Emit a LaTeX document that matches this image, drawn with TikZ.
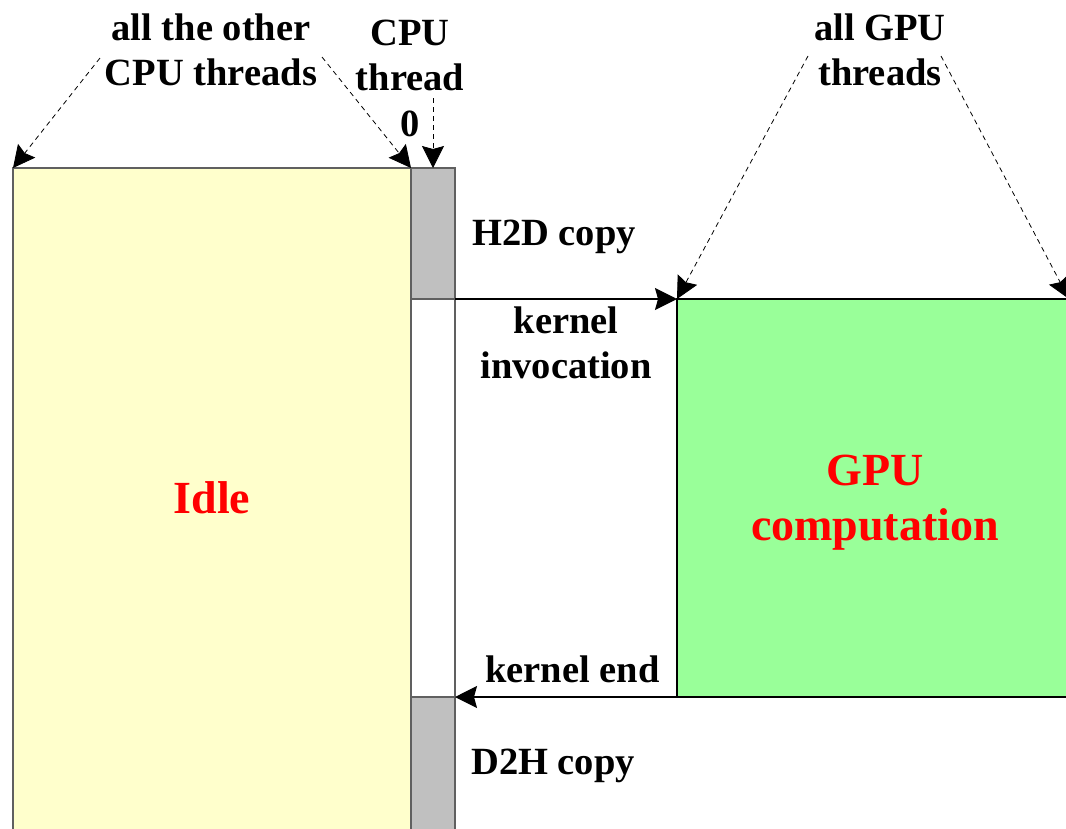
\documentclass[tikz,border=0pt]{standalone}
\usepackage{fontspec}
\setmainfont{Liberation Serif}
\usetikzlibrary{arrows.meta}

\definecolor{idlefill}{HTML}{FFFFCC}
\definecolor{copyfill}{HTML}{C0C0C0}
\definecolor{gpufill}{HTML}{99FF99}
\definecolor{edgegray}{HTML}{606060}

\begin{document}
\begin{tikzpicture}[x=1pt,y=-1pt,
  lbl/.style={font=\fontsize{38.5}{45.5}\selectfont\bfseries, align=center, inner sep=0pt},
  big/.style={font=\fontsize{46}{55}\selectfont\bfseries, text=red, align=center, inner sep=0pt},
  bar/.style={draw=edgegray, line width=1.2pt, anchor=north west, inner sep=0pt, outer sep=0pt},
  headed/.style={arrows={-Stealth[length=22pt,width=22pt,inset=3pt]}},
  pointer/.style={headed, dash pattern=on 5pt off 4pt, line width=0.8pt},
  signal/.style={headed, line width=1.3pt}]
\useasboundingbox (0,0) rectangle (1066,828);

% CPU side: idle threads and thread 0 timeline
\node[bar, fill=idlefill, minimum width=398pt, minimum height=662pt] (idle) at (13,168) {};
\node[bar, fill=copyfill, minimum width=44pt, minimum height=131pt] (h2d) at (411,168) {};
\node[bar, fill=white, minimum width=44pt, minimum height=398pt] (wait) at (411,299) {};
\node[bar, fill=copyfill, minimum width=44pt, minimum height=133pt] (d2h) at (411,697) {};

% GPU side
\node[bar, draw=black, fill=gpufill, minimum width=392pt, minimum height=398pt] (gpu) at (677,299) {};

% state texts
\node[big] (idletxt) at (212,498) {Idle};
\node[big] (gputxt) at (875,503) {GPU\\computation};

% labels
\node[lbl] (others) at (211,50) {all the other\\CPU threads};
\node[lbl] (cpu0) at (410,78) {CPU\\thread\\0};
\node[lbl] (gputh) at (880,50) {all GPU\\threads};
\node[lbl, anchor=west] (h2dlbl) at (472,237) {H2D copy};
\node[lbl] (kinv) at (566,343) {kernel\\invocation};
\node[lbl, anchor=west] (kend) at (485,669) {kernel end};
\node[lbl, anchor=west] (d2hlbl) at (471,766) {D2H copy};

% launch and completion signals
\draw[signal] (wait.north east) -- (gpu.north west);
\draw[signal] (gpu.south east) -- (wait.south east);

% dashed pointers from the thread labels
\coordinate (o1) at (100,58);
\coordinate (o2) at (322,57);
\coordinate (c0) at (433,98);
\coordinate (g1) at (808,56);
\coordinate (g2) at (941,56);
\draw[pointer] (o1) -- (idle.north west);
\draw[pointer] (o2) -- (idle.north east);
\draw[pointer] (c0) -- (h2d.north);
\draw[pointer] (g1) -- (gpu.north west);
\draw[pointer] (g2) -- (gpu.north east);
\end{tikzpicture}
\end{document}
